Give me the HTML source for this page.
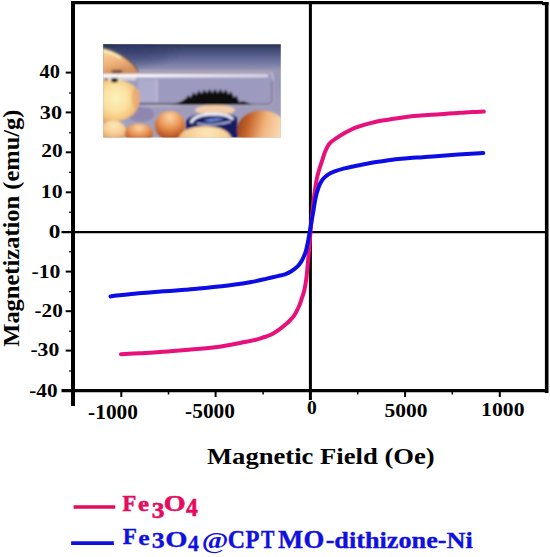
<!DOCTYPE html>
<html><head><meta charset="utf-8"><style>
html,body{margin:0;padding:0;background:#fff;width:550px;height:557px;overflow:hidden;}
svg{display:block;font-family:"Liberation Serif",serif;}
</style></head><body>
<svg width="550" height="557" viewBox="0 0 550 557" font-family="Liberation Serif" font-weight="bold">
<defs><clipPath id="pc"><rect x="103.3" y="44.3" width="177.5" height="93.2"/></clipPath><filter id="b1" x="-20%" y="-20%" width="140%" height="140%"><feGaussianBlur stdDeviation="0.9"/></filter><filter id="b2" x="-30%" y="-30%" width="160%" height="160%"><feGaussianBlur stdDeviation="2.2"/></filter><linearGradient id="pbg" x1="0" y1="44" x2="0" y2="138" gradientUnits="userSpaceOnUse"><stop offset="0" stop-color="#262e50"/><stop offset="0.04" stop-color="#3a426a"/><stop offset="0.1" stop-color="#4e5682"/><stop offset="0.17" stop-color="#686e9c"/><stop offset="0.24" stop-color="#8487ac"/><stop offset="0.28" stop-color="#9a96b4"/><stop offset="0.45" stop-color="#9896b8"/><stop offset="1" stop-color="#a6a2be"/></linearGradient><radialGradient id="thumb" cx="0.4" cy="0.45" r="0.62"><stop offset="0" stop-color="#fdf2bc"/><stop offset="0.5" stop-color="#fae0a0"/><stop offset="0.8" stop-color="#f4c67c"/><stop offset="1" stop-color="#e4a068"/></radialGradient><linearGradient id="idx" x1="0" y1="0" x2="0.35" y2="1"><stop offset="0" stop-color="#fbe8b0"/><stop offset="0.25" stop-color="#f8d096"/><stop offset="0.65" stop-color="#f0b078"/><stop offset="1" stop-color="#d09060"/></linearGradient><radialGradient id="ball" cx="0.5" cy="0.22" r="0.85"><stop offset="0" stop-color="#fbd6a6"/><stop offset="0.4" stop-color="#eb9a5c"/><stop offset="0.75" stop-color="#c25e28"/><stop offset="1" stop-color="#8c3010"/></radialGradient><radialGradient id="fing" cx="0.5" cy="0.3" r="0.75"><stop offset="0" stop-color="#fce2b4"/><stop offset="0.6" stop-color="#f4c08a"/><stop offset="1" stop-color="#dc9058"/></radialGradient><radialGradient id="fing2" cx="0.55" cy="0.25" r="0.8"><stop offset="0" stop-color="#fde8b8"/><stop offset="0.5" stop-color="#f6cc94"/><stop offset="1" stop-color="#d88a50"/></radialGradient><linearGradient id="rf" x1="0" y1="0" x2="1" y2="0.2"><stop offset="0" stop-color="#8c3414"/><stop offset="0.3" stop-color="#c8682e"/><stop offset="0.6" stop-color="#f0b47c"/><stop offset="1" stop-color="#fbe0c0"/></linearGradient><linearGradient id="hl" x1="0" y1="0" x2="1" y2="0"><stop offset="0" stop-color="#ffffff"/><stop offset="0.4" stop-color="#f2f0f8"/><stop offset="1" stop-color="#d4d0e4"/></linearGradient><radialGradient id="dk"><stop offset="0" stop-color="#2a3464" stop-opacity="0.55"/><stop offset="0.6" stop-color="#2a3464" stop-opacity="0.3"/><stop offset="1" stop-color="#2a3464" stop-opacity="0"/></radialGradient></defs>
<g clip-path="url(#pc)">
<rect x="103" y="44" width="178" height="94" fill="url(#pbg)"/>
<g filter="url(#b1)">
<path d="M100,42 L116,42 L106,50 L100,50Z" fill="#1d4a44" opacity="0.8"/>
<ellipse cx="132" cy="50" rx="50" ry="20" fill="url(#dk)"/>
<ellipse cx="141" cy="114" rx="13" ry="8" fill="#8478a8" opacity="0.6"/>
<rect x="100" y="71.5" width="173" height="33.5" rx="5" fill="#9c9abe"/>
<rect x="100" y="71.5" width="173" height="33.5" rx="5" fill="none" stroke="#cdc9de" stroke-width="1.2"/>
<line x1="100" y1="71.8" x2="270" y2="71.8" stroke="#b49a9a" stroke-width="1"/>
<rect x="100" y="74" width="168" height="3.4" fill="url(#hl)"/>
<rect x="138" y="79" width="19" height="23" fill="#b2b0d0" opacity="0.8"/>
<line x1="157" y1="79" x2="157" y2="102" stroke="#d0cce2" stroke-width="1"/>
<line x1="132" y1="104" x2="178" y2="104" stroke="#4a4458" stroke-width="1.5"/>
<line x1="140" y1="106" x2="180" y2="106" stroke="#c8c4d8" stroke-width="1"/>
<path d="M240,104.4 L267,104.4 Q272,104.4 272.3,99 L272.3,80" fill="none" stroke="#6a6480" stroke-width="1.3"/>
<polygon points="170.0,105.0 174.0,104.0 178.0,102.8 182.0,101.0 185.0,99.0 187.0,97.5 188.0,95.0 190.7,97.4 193.4,92.1 196.1,95.0 198.8,90.2 201.5,93.7 204.2,89.5 206.9,93.0 209.6,89.0 212.3,93.0 215.0,89.0 217.7,93.0 220.4,89.0 223.1,93.0 225.8,89.4 228.5,94.3 231.2,91.6 233.9,97.4 236.6,95.6 239.3,102.2 242.0,101.3 245.0,101.8 248.0,103.0 251.0,104.0 254.0,104.8" fill="#101010"/>
<path d="M100,47 Q110,49 118,53 Q129,59 135,66 Q139,71 137,74 L100,74 Z" fill="url(#idx)"/>
<path d="M100,47.6 Q110,49.6 118,53.6 Q129,59.6 135,66.6 Q138,70 137.6,72" fill="none" stroke="#202838" stroke-width="1.4" opacity="0.7"/>
<path d="M103,50.5 Q112,52.5 121,58" fill="none" stroke="#fff6d0" stroke-width="2.5" opacity="0.8"/>
<ellipse cx="117" cy="71.5" rx="6" ry="2" fill="#6a4434" opacity="0.8"/>
<path d="M100,79 Q110,78 121,80 Q134,83 139,92 Q142,104 134,114 Q124,122 110,122 L100,122 Z" fill="url(#thumb)"/>
<ellipse cx="135" cy="98" rx="3.5" ry="10" fill="#e89868" opacity="0.5"/>
<path d="M100,77.5 L136,77.5 L136,80.5 Q118,79.5 100,81 Z" fill="#f4eee6" opacity="0.7"/>
<ellipse cx="114.5" cy="80.3" rx="3.5" ry="2.2" fill="#0c0c0c"/>
<ellipse cx="106" cy="79.5" rx="2" ry="1.5" fill="#303030" opacity="0.6"/>
<ellipse cx="113" cy="131" rx="13" ry="10.5" fill="url(#fing2)"/>
<ellipse cx="139" cy="133.5" rx="14" ry="10" fill="url(#ball)"/>
<ellipse cx="170" cy="125.5" rx="15" ry="14.5" fill="url(#ball)"/>
<ellipse cx="215" cy="110" rx="20" ry="5" fill="#f4cca8"/>
<path d="M186,121 Q192,113 212,113 Q232,113 237,118 L238,138 L186,138 Z" fill="#161c62"/>
<path d="M191,123 Q194,114.5 213,114 Q229,114 233,119.5" fill="none" stroke="#eceef8" stroke-width="2.8"/>
<path d="M197,123.5 Q212,126.5 231,121.5" fill="none" stroke="#b8c0ec" stroke-width="1.3"/>
<path d="M203,121 Q212,117 224,118.5 Q220,121 210,122 Z" fill="#6a84d0"/>
<ellipse cx="205" cy="140" rx="27" ry="14" fill="url(#fing2)"/>
<ellipse cx="262" cy="130" rx="25" ry="19.5" fill="url(#rf)"/>
</g></g>
<g stroke="#000" fill="none">
<line x1="73" y1="1" x2="73" y2="406" stroke-width="4"/>
<line x1="71" y1="2.6" x2="543" y2="2.6" stroke-width="3.1"/>
<rect x="542" y="2" width="6.5" height="3.2" fill="#000" stroke="none"/>
<line x1="546.7" y1="2" x2="546.7" y2="393" stroke-width="3.6"/>
<line x1="61.5" y1="390.6" x2="548" y2="390.6" stroke-width="3.4"/>
<line x1="61.5" y1="232.2" x2="548" y2="232.2" stroke-width="2.2"/>
<line x1="310.4" y1="3" x2="310.4" y2="400" stroke-width="3"/>
<line x1="65.7" y1="72.6" x2="71.5" y2="72.6" stroke-width="2"/>
<line x1="65.7" y1="112.4" x2="71.5" y2="112.4" stroke-width="2"/>
<line x1="65.7" y1="152.3" x2="71.5" y2="152.3" stroke-width="2"/>
<line x1="65.7" y1="192.3" x2="71.5" y2="192.3" stroke-width="2"/>
<line x1="65.7" y1="271.6" x2="71.5" y2="271.6" stroke-width="2"/>
<line x1="65.7" y1="311.2" x2="71.5" y2="311.2" stroke-width="2"/>
<line x1="65.7" y1="350.6" x2="71.5" y2="350.6" stroke-width="2"/>
<line x1="69" y1="371.0" x2="71.5" y2="371.0" stroke-width="1.2"/>
<line x1="69" y1="331.2" x2="71.5" y2="331.2" stroke-width="1.2"/>
<line x1="69" y1="291.6" x2="71.5" y2="291.6" stroke-width="1.2"/>
<line x1="69" y1="251.8" x2="71.5" y2="251.8" stroke-width="1.2"/>
<line x1="69" y1="212.2" x2="71.5" y2="212.2" stroke-width="1.2"/>
<line x1="69" y1="172.4" x2="71.5" y2="172.4" stroke-width="1.2"/>
<line x1="69" y1="132.8" x2="71.5" y2="132.8" stroke-width="1.2"/>
<line x1="69" y1="93.0" x2="71.5" y2="93.0" stroke-width="1.2"/>
<line x1="121.3" y1="392" x2="121.3" y2="397" stroke-width="2"/>
<line x1="215.6" y1="392" x2="215.6" y2="397" stroke-width="2"/>
<line x1="405.1" y1="392" x2="405.1" y2="397" stroke-width="2"/>
<line x1="499.8" y1="392" x2="499.8" y2="397" stroke-width="2"/>
<line x1="168.5" y1="392" x2="168.5" y2="394.5" stroke-width="1.5"/>
<line x1="263.1" y1="392" x2="263.1" y2="394.5" stroke-width="1.5"/>
<line x1="357.7" y1="392" x2="357.7" y2="394.5" stroke-width="1.5"/>
<line x1="452.3" y1="392" x2="452.3" y2="394.5" stroke-width="1.5"/>
</g>
<path d="M121.00,354.20 C124.17,354.03 133.50,353.55 140.00,353.20 C146.50,352.85 152.50,352.63 160.00,352.10 C167.50,351.57 175.83,350.80 185.00,350.00 C194.17,349.20 205.00,348.63 215.00,347.30 C225.00,345.97 237.95,343.32 245.00,342.00 C252.05,340.68 254.05,340.23 257.30,339.40 C260.55,338.57 262.08,337.85 264.50,337.00 C266.92,336.15 269.37,335.53 271.80,334.30 C274.23,333.07 276.67,331.35 279.10,329.60 C281.53,327.85 284.55,325.38 286.40,323.80 C288.25,322.22 288.92,321.47 290.20,320.10 C291.48,318.73 292.70,317.73 294.10,315.60 C295.50,313.47 297.35,310.07 298.60,307.30 C299.85,304.53 300.63,301.88 301.60,299.00 C302.57,296.12 303.60,293.50 304.40,290.00 C305.20,286.50 305.85,282.17 306.40,278.00 C306.95,273.83 307.33,268.83 307.70,265.00 C308.07,261.17 308.32,258.33 308.60,255.00 C308.88,251.67 309.12,248.50 309.40,245.00 C309.68,241.50 309.98,237.67 310.30,234.00 C310.62,230.33 310.93,226.83 311.30,223.00 C311.67,219.17 312.08,215.00 312.50,211.00 C312.92,207.00 313.35,202.75 313.80,199.00 C314.25,195.25 314.62,192.25 315.20,188.50 C315.78,184.75 316.50,180.08 317.30,176.50 C318.10,172.92 319.13,169.83 320.00,167.00 C320.87,164.17 321.67,162.00 322.50,159.50 C323.33,157.00 323.85,154.65 325.00,152.00 C326.15,149.35 327.43,145.95 329.40,143.60 C331.37,141.25 334.12,139.75 336.80,137.90 C339.48,136.05 342.58,134.13 345.50,132.50 C348.42,130.87 351.20,129.38 354.30,128.10 C357.40,126.82 360.82,125.77 364.10,124.80 C367.38,123.83 371.20,122.97 374.00,122.30 C376.80,121.63 377.93,121.33 380.90,120.80 C383.87,120.27 388.17,119.65 391.80,119.10 C395.43,118.55 399.07,118.00 402.70,117.50 C406.33,117.00 409.97,116.48 413.60,116.10 C417.23,115.72 420.63,115.48 424.50,115.20 C428.37,114.92 432.78,114.67 436.80,114.40 C440.82,114.13 444.65,113.87 448.60,113.60 C452.55,113.33 456.55,113.05 460.50,112.80 C464.45,112.55 468.42,112.30 472.30,112.10 C476.18,111.90 481.88,111.68 483.80,111.60" fill="none" stroke="#e8107a" stroke-width="4.0" stroke-linejoin="round" stroke-linecap="round"/>
<path d="M110.50,296.40 C111.53,296.27 113.53,295.95 116.70,295.60 C119.87,295.25 125.25,294.73 129.50,294.30 C133.75,293.87 137.97,293.38 142.20,293.00 C146.43,292.62 150.27,292.35 154.90,292.00 C159.53,291.65 165.07,291.27 170.00,290.90 C174.93,290.53 179.65,290.18 184.50,289.80 C189.35,289.42 194.25,289.05 199.10,288.60 C203.95,288.15 208.75,287.63 213.60,287.10 C218.45,286.57 223.35,286.02 228.20,285.40 C233.05,284.78 239.07,283.93 242.70,283.40 C246.33,282.87 247.80,282.58 250.00,282.20 C252.20,281.82 253.10,281.70 255.90,281.10 C258.70,280.50 263.17,279.43 266.80,278.60 C270.43,277.77 274.67,276.82 277.70,276.10 C280.73,275.38 282.73,275.10 285.00,274.30 C287.27,273.50 289.20,272.62 291.30,271.30 C293.40,269.98 295.92,268.05 297.60,266.40 C299.28,264.75 300.35,263.08 301.40,261.40 C302.45,259.72 303.17,257.98 303.90,256.30 C304.63,254.62 305.28,252.97 305.80,251.30 C306.32,249.63 306.58,248.18 307.00,246.30 C307.42,244.42 307.85,242.38 308.30,240.00 C308.75,237.62 309.22,234.83 309.70,232.00 C310.18,229.17 310.75,225.58 311.20,223.00 C311.65,220.42 312.03,218.50 312.40,216.50 C312.77,214.50 313.07,213.00 313.40,211.00 C313.73,209.00 313.98,206.90 314.40,204.50 C314.82,202.10 315.33,199.08 315.90,196.60 C316.47,194.12 317.15,191.65 317.80,189.60 C318.45,187.55 318.97,186.02 319.80,184.30 C320.63,182.58 321.48,180.88 322.80,179.30 C324.12,177.72 325.73,176.12 327.70,174.80 C329.67,173.48 331.80,172.47 334.60,171.40 C337.40,170.33 341.20,169.27 344.50,168.40 C347.80,167.53 350.30,167.07 354.40,166.20 C358.50,165.33 364.23,164.07 369.10,163.20 C373.97,162.33 378.75,161.68 383.60,161.00 C388.45,160.32 393.35,159.63 398.20,159.10 C403.05,158.57 409.07,158.08 412.70,157.80 C416.33,157.52 416.67,157.63 420.00,157.40 C423.33,157.17 428.45,156.72 432.70,156.40 C436.95,156.08 441.25,155.80 445.50,155.50 C449.75,155.20 453.97,154.90 458.20,154.60 C462.43,154.30 466.72,153.97 470.90,153.70 C475.08,153.43 481.23,153.12 483.30,153.00" fill="none" stroke="#0c0ce4" stroke-width="4.0" stroke-linejoin="round" stroke-linecap="round"/>
<text transform="matrix(20.4233,0,0,18.9630,39.544,78.460)" font-size="1" fill="#000">40</text>
<text transform="matrix(22.2826,0,0,18.8148,39.759,119.262)" font-size="1" fill="#000">30</text>
<text transform="matrix(21.4130,0,0,18.3704,41.193,157.466)" font-size="1" fill="#000">20</text>
<text transform="matrix(21.8182,0,0,18.0741,40.805,198.169)" font-size="1" fill="#000">10</text>
<text transform="matrix(23.3333,0,0,18.8148,48.817,237.762)" font-size="1" fill="#000">0</text>
<text transform="matrix(21.6667,0,0,19.7037,31.592,278.153)" font-size="1" fill="#000">-10</text>
<text transform="matrix(21.1905,0,0,18.2222,34.508,317.368)" font-size="1" fill="#000">-20</text>
<text transform="matrix(21.6667,0,0,18.8148,30.392,356.062)" font-size="1" fill="#000">-30</text>
<text transform="matrix(21.1905,0,0,18.8148,29.308,396.862)" font-size="1" fill="#000">-40</text>
<text transform="matrix(21.3717,0,0,20.4444,88.102,419.446)" font-size="1" fill="#000">-1000</text>
<text transform="matrix(21.3717,0,0,20.0000,185.102,418.150)" font-size="1" fill="#000">-5000</text>
<text transform="matrix(19.5238,0,0,18.9630,307.069,414.160)" font-size="1" fill="#000">0</text>
<text transform="matrix(21.5104,0,0,19.7037,384.490,416.953)" font-size="1" fill="#000">5000</text>
<text transform="matrix(21.7021,0,0,18.9630,481.114,416.460)" font-size="1" fill="#000">1000</text>
<text transform="matrix(26.6392,0,0,22.7322,206.950,464.149)" font-size="1" fill="#000">Magnetic Field (Oe)</text>
<text transform="matrix(0,-24.4940,23.2787,0,19.029,346.717)" font-size="1" fill="#000">Magnetization (emu/g)</text>
<line x1="73.6" y1="506.9" x2="115.2" y2="506.9" stroke="#e60a5c" stroke-width="3.5"/>
<line x1="71.1" y1="543.1" x2="113.9" y2="543.1" stroke="#1010e0" stroke-width="3.7"/>
<g stroke="#e60a5c" stroke-width="0.025">
<text transform="matrix(22.5455,0,0,23.6641,122.512,511.350)" font-size="1" fill="#e60a5c">F</text>
<text transform="matrix(24.6753,0,0,21.4583,137.986,511.335)" font-size="1" fill="#e60a5c">e</text>
<text transform="matrix(25.4118,0,0,23.2836,151.834,518.217)" font-size="1" fill="#e60a5c">3</text>
<text transform="matrix(28.0882,0,0,23.7313,163.746,511.213)" font-size="1" fill="#e60a5c">O</text>
<text transform="matrix(23.6559,0,0,24.3939,185.995,516.250)" font-size="1" fill="#e60a5c">4</text>
</g><g stroke="#1010e0" stroke-width="0.015">
<text transform="matrix(23.2727,0,0,22.7481,122.701,544.350)" font-size="1" fill="#1010e0">F</text>
<text transform="matrix(25.7143,0,0,21.2500,138.150,544.538)" font-size="1" fill="#1010e0">e</text>
<text transform="matrix(25.8824,0,0,22.5373,151.815,548.425)" font-size="1" fill="#1010e0">3</text>
<text transform="matrix(28.6765,0,0,24.0299,165.216,546.710)" font-size="1" fill="#1010e0">O</text>
<text transform="matrix(21.7204,0,0,23.1818,188.024,550.650)" font-size="1" fill="#1010e0">4</text>
<text transform="matrix(24.0336,0,0,25.0746,227.748,548.299)" font-size="1" fill="#1010e0">C</text>
<text transform="matrix(22.8319,0,0,24.5802,245.508,548.250)" font-size="1" fill="#1010e0">P</text>
<text transform="matrix(20.1575,0,0,24.5802,260.948,548.250)" font-size="1" fill="#1010e0">T</text>
<text transform="matrix(26.6667,0,0,24.5802,277.950,548.250)" font-size="1" fill="#1010e0">M</text>
<text transform="matrix(26.7647,0,0,25.5224,303.412,548.395)" font-size="1" fill="#1010e0">O</text>
<text transform="matrix(26.2354,0,0,22.1277,325.632,548.129)" font-size="1" fill="#1010e0">-dithizone-Ni</text>
</g>
<text transform="matrix(28.6747,0,0,23.2749,201.716,548.228)" font-size="1" fill="#1010e0">@</text>
</svg>
</body></html>
